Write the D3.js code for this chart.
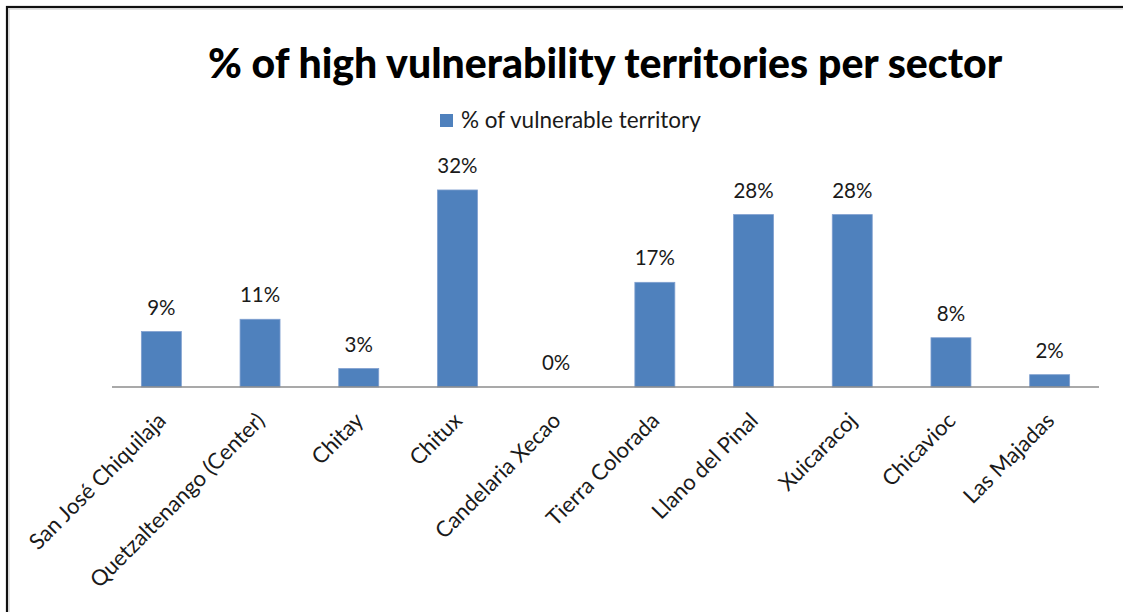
<!DOCTYPE html>
<html>
<head>
<meta charset="utf-8">
<script src="https://cdn.jsdelivr.net/npm/d3@7"></script>
<style>
  html, body { margin: 0; padding: 0; background: #fff; }
  svg { display: block; }
  text { font-family: Lato, "Open Sans", sans-serif; }
</style>
</head>
<body>
<svg id="chart" width="1123" height="612"></svg>
<script>
// Sectors and share of territory classified as highly vulnerable (%)
const sectors = [
  "San José Chiquilaja",
  "Quetzaltenango (Center)",
  "Chitay",
  "Chitux",
  "Candelaria Xecao",
  "Tierra Colorada",
  "Llano del Pinal",
  "Xuicaracoj",
  "Chicavioc",
  "Las Majadas"
];
const vulnerablePct = [9, 11, 3, 32, 0, 17, 28, 28, 8, 2];
const seriesName = "% of vulnerable territory";
const chartTitle = "% of high vulnerability territories per sector";

const svg = d3.select("#chart");
const W = 1123, H = 612;
const barColor = "#4F81BD";

// outer chart frame
svg.append("rect")
  .attr("x", 7).attr("y", 7)
  .attr("width", W + 20).attr("height", H + 20)
  .attr("fill", "#fff")
  .attr("stroke", "#111").attr("stroke-width", 2.2);
svg.append("rect")
  .attr("x", 9).attr("y", 9)
  .attr("width", W + 20).attr("height", H + 20)
  .attr("fill", "none")
  .attr("stroke", "#c8c8c8").attr("stroke-width", 1);

const plot = { left: 112, right: 1099, top: 171.5, bottom: 387 };

const x = d3.scaleBand()
  .domain(sectors)
  .range([plot.left, plot.right])
  .paddingInner(0.595)
  .paddingOuter(0.2975);

const y = d3.scaleLinear()
  .domain([0, 35])
  .range([plot.bottom, plot.top]);

// title
svg.append("text")
  .attr("x", 605).attr("y", 78)
  .attr("text-anchor", "middle")
  .attr("font-weight", "900")
  .attr("font-size", 41)
  .attr("fill", "#000")
  .text(chartTitle);

// legend
const legend = svg.append("g");
legend.append("rect")
  .attr("x", 440).attr("y", 114)
  .attr("width", 13).attr("height", 13)
  .attr("fill", barColor);
legend.append("text")
  .attr("x", 461).attr("y", 128)
  .attr("font-size", 22.5)
  .attr("fill", "#1a1a1a")
  .text(seriesName);

// bars
svg.append("g")
  .selectAll("rect")
  .data(vulnerablePct)
  .join("rect")
  .attr("x", (d, i) => x(sectors[i]))
  .attr("y", d => y(d))
  .attr("width", x.bandwidth())
  .attr("height", d => y(0) - y(d))
  .attr("fill", barColor)
  .attr("stroke", "#7f9fcf")
  .attr("stroke-width", 0.8);

// value labels
svg.append("g")
  .selectAll("text")
  .data(vulnerablePct)
  .join("text")
  .attr("x", (d, i) => x(sectors[i]) + x.bandwidth() / 2)
  .attr("y", d => y(d) - 17)
  .attr("text-anchor", "middle")
  .attr("font-size", 20.5)
  .attr("fill", "#1a1a1a")
  .text(d => d + "%");

// category axis
const axis = svg.append("g")
  .attr("transform", `translate(0,${plot.bottom})`)
  .call(d3.axisBottom(x).tickSize(0).tickSizeOuter(0).tickPadding(0));
axis.select(".domain")
  .attr("stroke", "#8c8c8c")
  .attr("stroke-width", 1.6)
  .attr("d", `M${plot.left},0H${plot.right}`);
axis.selectAll(".tick text")
  .attr("font-size", 22)
  .attr("fill", "#1a1a1a")
  .attr("text-anchor", "end")
  .attr("dy", 0)
  .attr("y", 0)
  .attr("transform", "translate(6,35) rotate(-45)");
</script>
</body>
</html>
